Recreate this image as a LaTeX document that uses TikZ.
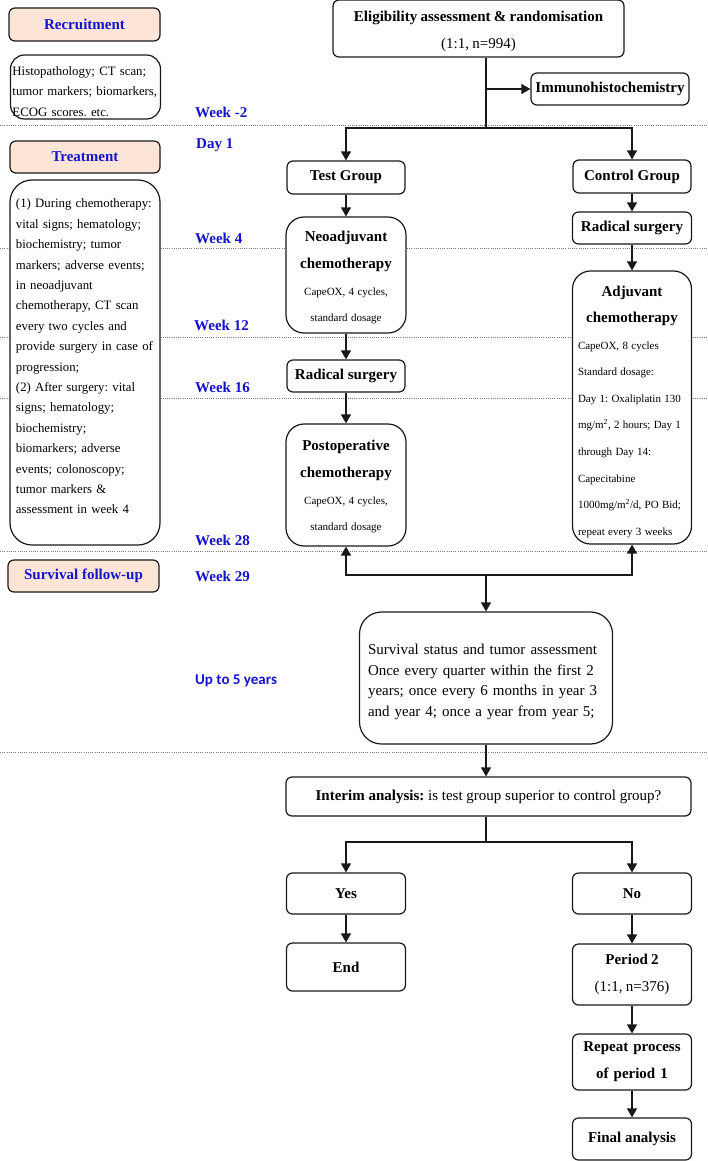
\documentclass[tikz,border=0pt]{standalone}
\usepackage{fontspec}
\setmainfont{Liberation Serif}
\newfontfamily\carlitofont{Carlito}
\usetikzlibrary{arrows.meta}
\frenchspacing
\definecolor{bluelab}{RGB}{20,20,205}
\definecolor{peach}{RGB}{252,229,214}
\definecolor{edgecol}{RGB}{25,25,25}
\definecolor{dotcol}{RGB}{120,120,120}
\newcommand\ftitle{\fontsize{15}{27}\selectfont\bfseries}
\newcommand\freg{\fontsize{15}{27}\selectfont}
\newcommand\fsmall{\fontsize{11}{26.6}\selectfont}
\newcommand\fleft{\fontsize{12.8}{20.4}\selectfont}
\tikzset{
  box/.style={draw=edgecol, line width=1.2pt, fill=white, rounded corners=6pt, inner sep=1pt, align=center},
  titlebox/.style={box, font=\ftitle},
  phasebox/.style={box, fill=peach, text=bluelab, font=\ftitle},
  bigbox/.style={box, rounded corners=18pt},
  weeklab/.style={anchor=west, inner sep=0pt, text=bluelab, font=\ftitle},
  conn/.style={draw=edgecol, line width=1.3pt},
  arr/.style={conn, -{Triangle[length=9pt,width=10pt]}},
  dotline/.style={draw=dotcol, line width=0.8pt, dash pattern=on 1pt off 1.2pt}
}
\begin{document}
\begin{tikzpicture}[x=1pt,y=-1pt]
\useasboundingbox (0,0) rectangle (708,1161);
\fill[white] (0,0) rectangle (708,1161);
% dotted phase lines
\foreach \yy in {125,248,337,398,551,752} \draw[dotline] (0,\yy) -- (708,\yy);

% left column
\node[phasebox, minimum width=151pt, minimum height=33pt] (recr) at (84.5,24.5) {Recruitment};
\node[bigbox, rounded corners=14pt, minimum width=150pt, minimum height=64pt, text width=146pt, align=left, inner sep=0pt, font=\fleft] (recrd) at (85.5,87)
  {\rule{0pt}{17.5pt}Histopathology; CT scan;\\tumor markers; biomarkers,\\ECOG scores. etc.};
\node[phasebox, minimum width=150pt, minimum height=32pt] (treat) at (85,157) {Treatment};
\node[bigbox, rounded corners=22pt, minimum width=150pt, minimum height=365pt, text width=138pt, align=left, inner sep=0pt, font=\fleft] (treatd) at (85,362.5)
  {(1) During chemotherapy:\\vital signs; hematology;\\biochemistry; tumor\\markers; adverse events;\\in neoadjuvant\\chemotherapy, CT scan\\every two cycles and\\provide surgery in case of\\progression;\\(2) After surgery: vital\\signs; hematology;\\biochemistry;\\biomarkers; adverse\\events; colonoscopy;\\tumor markers \&\\assessment in week 4\rule[-12pt]{0pt}{1pt}};
\node[phasebox, minimum width=151pt, minimum height=32pt] (surfu) at (83.5,576) {Survival follow-up};

% time labels
\node[weeklab] (wm2) at (195,112) {Week -2};
\node[weeklab] (d1) at (196,145) {Day 1};
\node[weeklab] (w4) at (195,238) {Week 4};
\node[weeklab] (w12) at (194,325) {Week 12};
\node[weeklab] (w16) at (195,387) {Week 16};
\node[weeklab] (w28) at (195,540) {Week 28};
\node[weeklab] (w29) at (195,576) {Week 29};
\node[weeklab, font=\carlitofont\bfseries\fontsize{15}{18}\selectfont] (y5) at (195,681) {Up to 5 years};

% right part
\node[box, minimum width=291pt, minimum height=57pt, text width=286pt] (elig) at (478.5,28.5)
  {{\ftitle\rule{0pt}{16pt}Eligibility assessment \& randomisation\par}{\freg (1:1, n=994)\par}};
\node[titlebox, minimum width=158pt, minimum height=32pt] (immuno) at (610,89) {Immunohistochemistry};
\coordinate (j1) at (486,128);
\coordinate (jb) at (486,89);

\node[titlebox, minimum width=118pt, minimum height=33pt] (test) at (346,177.5) {Test Group};
\node[titlebox, minimum width=118pt, minimum height=33pt] (control) at (632,176.5) {Control Group};
\node[bigbox, minimum width=120pt, minimum height=116pt, text width=116pt] (neo) at (346,275)
  {{\ftitle\fontsize{15}{26.6}\selectfont\rule{0pt}{16pt}Neoadjuvant\\chemotherapy\par}{\fsmall CapeOX, 4 cycles,\\standard dosage\par}};
\node[titlebox, minimum width=118pt, minimum height=32pt] (radL) at (346,376) {Radical surgery};
\node[bigbox, minimum width=120pt, minimum height=122pt, text width=116pt] (post) at (346,485)
  {{\ftitle\fontsize{15}{26.6}\selectfont\rule{0pt}{14pt}Postoperative\\chemotherapy\par}{\fsmall CapeOX, 4 cycles,\\standard dosage\par}};
\node[titlebox, minimum width=119pt, minimum height=32pt] (radR) at (632,228) {Radical surgery};
\node[bigbox, minimum width=119pt, minimum height=273pt, text width=108pt] (adj) at (632,407.5)
  {{\ftitle\fontsize{15}{26.2}\selectfont\rule{0pt}{19pt}Adjuvant\\chemotherapy\par}\raggedright\fsmall CapeOX, 8 cycles\\Standard dosage:\\Day 1: Oxaliplatin 130\\mg/m\textsuperscript{2}, 2 hours; Day 1\\through Day 14:\\Capecitabine\\1000mg/m\textsuperscript{2}/d, PO Bid;\\repeat every 3 weeks\par};
\coordinate (j2) at (486,575);

\node[bigbox, rounded corners=22pt, minimum width=253pt, minimum height=132pt, text width=236pt, align=left, inner sep=0pt, font=\fontsize{15}{20.7}\selectfont] (surv) at (486,678)
  {\rule{0pt}{18.5pt}Survival status and tumor assessment\\Once every quarter within the first 2\\years; once every 6 months in year 3\\and year 4; once a year from year 5;};

\node[box, minimum width=405pt, minimum height=39pt, font=\freg] (interim) at (488.5,796.5)
  {\textbf{Interim analysis:} is test group superior to control group?};
\coordinate (j3) at (486,842);
\node[titlebox, minimum width=119pt, minimum height=41pt] (yes) at (346,893.5) {Yes};
\node[titlebox, minimum width=119pt, minimum height=41pt] (no) at (632,893.5) {No};
\node[titlebox, minimum width=119pt, minimum height=48pt] (endn) at (346,967) {End};
\node[box, minimum width=119pt, minimum height=61pt, text width=115pt] (p2) at (632,974.5)
  {{\ftitle Period 2\par}{\freg (1:1, n=376)\par}};
\node[box, minimum width=119pt, minimum height=56pt, text width=115pt, font=\ftitle] (rep) at (632,1062)
  {Repeat process\\of period 1};
\node[titlebox, minimum width=119pt, minimum height=42pt] (final) at (632,1139) {Final analysis};

% connectors
\draw[conn] (elig.south -| j1) -- (j1);
\draw[arr] (jb) -- (immuno.west);
\draw[arr] (j1) -| (test.north);
\draw[arr] (j1) -| (control.north);
\draw[arr] (test.south) -- (neo.north);
\draw[arr] (neo.south) -- (radL.north);
\draw[arr] (radL.south) -- (post.north);
\draw[arr] (control.south) -- (radR.north);
\draw[arr] (radR.south) -- (adj.north);
\draw[arr] (j2) -| (post.south);
\draw[arr] (j2) -| (adj.south);
\draw[arr] (j2) -- (surv.north);
\draw[arr] (surv.south) -- (surv.south |- interim.north);
\draw[conn] (interim.south -| j3) -- (j3);
\draw[arr] (j3) -| (yes.north);
\draw[arr] (j3) -| (no.north);
\draw[arr] (yes.south) -- (endn.north);
\draw[arr] (no.south) -- (p2.north);
\draw[arr] (p2.south) -- (rep.north);
\draw[arr] (rep.south) -- (final.north);
\end{tikzpicture}
\end{document}
